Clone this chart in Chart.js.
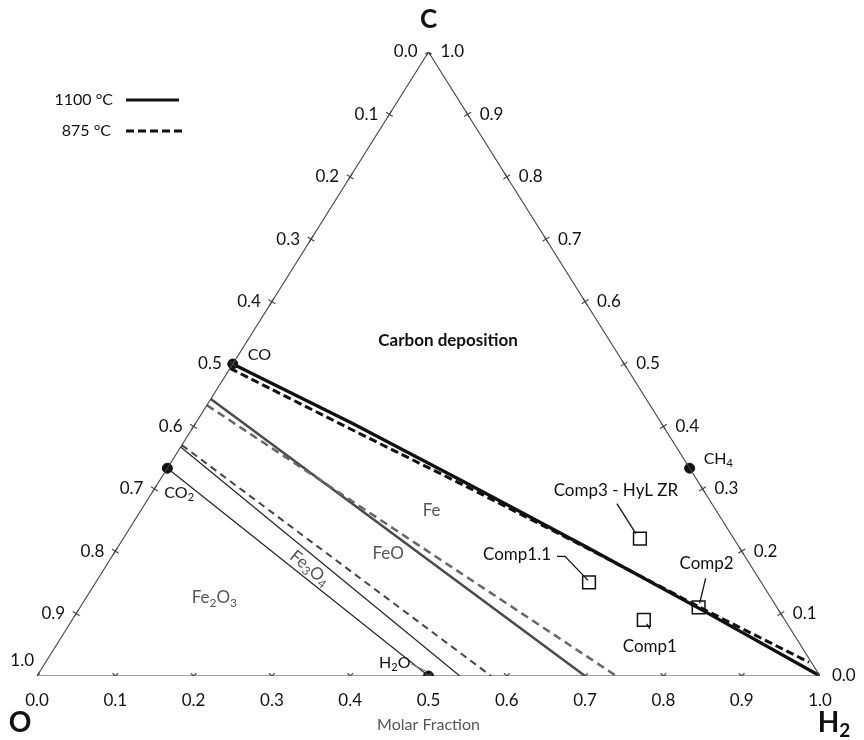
<!DOCTYPE html>
<html>
<head>
<meta charset="utf-8">
<title>C-H-O ternary diagram</title>
<script src="https://cdn.jsdelivr.net/npm/chart.js@4.4.1/dist/chart.umd.min.js"></script>
<style>
  body { margin: 0; background: #fff; }
  #wrap { width: 864px; height: 740px; position: relative; }
</style>
</head>
<body>
<div id="wrap"><canvas id="ternary"></canvas></div>
<script>
// molar fractions: h = H2, c = C  (O = 1 - h - c)
const tickValues = [0, 0.1, 0.2, 0.3, 0.4, 0.5, 0.6, 0.7, 0.8, 0.9, 1.0];

// carbon deposition limit
const carbon1100H = [0, 0.2, 0.4, 0.6, 0.8, 1.0];
const carbon1100C = [0.5, 0.405, 0.306, 0.206, 0.104, 0];
const carbon875H = [0, 0.2, 0.4, 0.6, 0.8, 0.9, 0.975];
const carbon875C = [0.493, 0.397, 0.302, 0.205, 0.106, 0.058, 0.022];

// Fe / FeO
const feFeo1100H = [0, 0.70];
const feFeo1100C = [0.444, 0];
const feFeo875H = [0, 0.74];
const feFeo875C = [0.434, 0];

// FeO / Fe3O4
const feoMag1100H = [0, 0.54];
const feoMag1100C = [0.367, 0];
const feoMag875H = [0, 0.58];
const feoMag875C = [0.37, 0];

// Fe3O4 / Fe2O3 (CO2 - H2O)
const magHemH = [0, 0.5];
const magHemC = [0.333, 0];

// pure species
const speciesNames = ['CO', 'CO_2', 'H_2O', 'CH_4'];
const speciesH = [0, 0, 0.5, 0.667];
const speciesC = [0.5, 0.333, 0, 0.333];

// gas compositions
const compNames = ['Comp1', 'Comp1.1', 'Comp2', 'Comp3 - HyL ZR'];
const compH = [0.73, 0.63, 0.79, 0.66];
const compC = [0.09, 0.15, 0.11, 0.22];

const FONT = 'Lato, "Open Sans", sans-serif';

function pts(hs, cs) {
  return hs.map((h, i) => ({ x: h + cs[i] / 2, y: cs[i] }));
}

// text with "_2" style subscripts
function chem(ctx, text, x, y, size, align, color, bold) {
  const parts = [];
  for (let i = 0; i < text.length; i++) {
    if (text[i] === '_') { parts.push([text[i + 1], true]); i++; }
    else if (parts.length && !parts[parts.length - 1][1]) parts[parts.length - 1][0] += text[i];
    else parts.push([text[i], false]);
  }
  const w = bold ? 'bold ' : '';
  const subSize = Math.round(size * 0.68);
  let total = 0;
  parts.forEach(p => {
    ctx.font = w + (p[1] ? subSize : size) + 'px ' + FONT;
    p.push(ctx.measureText(p[0]).width);
    total += p[2];
  });
  let cx = align === 'center' ? x - total / 2 : align === 'right' ? x - total : x;
  ctx.fillStyle = color;
  ctx.textAlign = 'left';
  ctx.textBaseline = 'middle';
  parts.forEach(p => {
    ctx.font = w + (p[1] ? subSize : size) + 'px ' + FONT;
    ctx.fillText(p[0], cx, p[1] ? y + size * 0.28 : y);
    cx += p[2];
  });
}

function line(ctx, x1, y1, x2, y2, color, width, dash) {
  ctx.save();
  ctx.strokeStyle = color;
  ctx.lineWidth = width;
  ctx.setLineDash(dash || []);
  ctx.beginPath();
  ctx.moveTo(x1, y1);
  ctx.lineTo(x2, y2);
  ctx.stroke();
  ctx.restore();
}

const textPlugin = {
  id: 'ternaryText',
  afterDatasetsDraw(chart) {
    const { ctx, scales: { x, y } } = chart;
    const at = (h, c) => [x.getPixelForValue(h + c / 2), y.getPixelForValue(c)];
    ctx.save();

    // axis tick labels
    ctx.font = '17px ' + FONT;
    ctx.fillStyle = '#111';
    ctx.textBaseline = 'middle';
    tickValues.forEach(v => {
      // O fraction along the O-C side
      let [px, py] = at(0, 1 - v);
      ctx.textAlign = 'right';
      if (v === 1) ctx.fillText(v.toFixed(1), px - 3, py - 15);
      else ctx.fillText(v.toFixed(1), px - 11, py);
      // C fraction along the C-H2 side
      [px, py] = at(1 - v, v);
      ctx.textAlign = 'left';
      ctx.fillText(v.toFixed(1), px + 12, py);
      // H2 fraction along the base
      [px, py] = at(v, 0);
      ctx.textAlign = 'center';
      ctx.fillText(v.toFixed(1), px, py + 25);
    });

    // corner names
    let [px, py] = at(0, 1);
    chem(ctx, 'C', px, py - 32, 26, 'center', '#111', true);
    [px, py] = at(0, 0);
    chem(ctx, 'O', px - 17, py + 47, 28, 'center', '#111', true);
    [px, py] = at(1, 0);
    chem(ctx, 'H_2', px + 14, py + 47, 28, 'center', '#111', true);
    [px, py] = at(0.5, 0);
    chem(ctx, 'Molar Fraction', px, py + 49, 16, 'center', '#555', false);

    // phase fields
    [px, py] = at(0.256, 0.538);
    chem(ctx, 'Carbon deposition', px, py, 17, 'center', '#111', true);
    [px, py] = at(0.371, 0.266);
    chem(ctx, 'Fe', px, py, 17, 'center', '#555', false);
    [px, py] = at(0.35, 0.197);
    chem(ctx, 'FeO', px, py, 17, 'center', '#555', false);
    [px, py] = at(0.164, 0.125);
    chem(ctx, 'Fe_2O_3', px, py, 17, 'center', '#555', false);
    const [ax, ay] = at(feoMag1100H[0], feoMag1100C[0]);
    const [bx, by] = at(feoMag1100H[1], feoMag1100C[1]);
    [px, py] = at(0.262, 0.173);
    ctx.save();
    ctx.translate(px, py);
    ctx.rotate(Math.atan2(by - ay, bx - ax));
    chem(ctx, 'Fe_3O_4', 0, 0, 17, 'center', '#555', false);
    ctx.restore();

    // species labels
    const spOff = [[15, -9, 'left'], [-3, 25, 'left'], [-18, -13, 'right'], [14, -9, 'left']];
    speciesNames.forEach((n, i) => {
      const [sx, sy] = at(speciesH[i], speciesC[i]);
      const o = spOff[i];
      chem(ctx, n, sx + o[0], sy + o[1], 16, o[2], '#111', false);
      if (i === 2) line(ctx, sx - 17, sy - 12, sx - 3, sy - 5, '#777', 1.2);
    });

    // composition labels with leaders
    const leaders = [
      { lab: [6, 27], path: [[3, 4], [6, 9]] },
      { lab: [-72, -28], path: [[-32, -26], [-24, -26], [-1, -2]] },
      { lab: [8, -44], path: [[7, -29], [1, -4]] },
      { lab: [-24, -48], path: [[-23, -35], [-4, -5]] }
    ];
    compNames.forEach((n, i) => {
      const [cx, cy] = at(compH[i], compC[i]);
      const l = leaders[i];
      chem(ctx, n, cx + l.lab[0], cy + l.lab[1], 17, 'center', '#111', false);
      ctx.strokeStyle = '#111';
      ctx.lineWidth = 1.3;
      ctx.setLineDash([]);
      ctx.beginPath();
      l.path.forEach((p, k) => k ? ctx.lineTo(cx + p[0], cy + p[1]) : ctx.moveTo(cx + p[0], cy + p[1]));
      ctx.stroke();
    });

    // temperature key
    chem(ctx, '1100 °C', 113, 100, 16, 'right', '#111', false);
    line(ctx, 126, 100, 179, 100, '#111', 3);
    chem(ctx, '875 °C', 111, 131, 16, 'right', '#111', false);
    line(ctx, 126, 131, 184, 131, '#111', 3, [8, 4]);

    ctx.restore();
  }
};

const edgeH = [0, 1, 0, 0];
const edgeC = [0, 0, 1, 0];
const leftTicks = pts(tickValues.map(() => 0), tickValues);
const rightTicks = pts(tickValues.map(v => 1 - v), tickValues);
const baseTicks = pts(tickValues, tickValues.map(() => 0));

const lineSet = (data, color, width, dash) => ({
  data, showLine: true, borderColor: color, borderWidth: width,
  borderDash: dash || [], pointRadius: 0, fill: false
});

new Chart(document.getElementById('ternary'), {
  type: 'scatter',
  data: {
    datasets: [
      lineSet(pts(edgeH, edgeC), '#444', 1.1),
      { data: leftTicks, pointStyle: 'cross', rotation: 32, pointRadius: 4, borderColor: '#444', borderWidth: 1.1 },
      { data: rightTicks, pointStyle: 'cross', rotation: -32, pointRadius: 4, borderColor: '#444', borderWidth: 1.1 },
      { data: baseTicks, pointStyle: 'crossRot', pointRadius: 4, borderColor: '#555', borderWidth: 1.3 },
      lineSet(pts(magHemH, magHemC), '#222', 1.2),
      lineSet(pts(feoMag1100H, feoMag1100C), '#222', 1.2),
      lineSet(pts(feoMag875H, feoMag875C), '#444', 2, [7, 5]),
      lineSet(pts(feFeo875H, feFeo875C), '#666', 2.5, [8, 5]),
      lineSet(pts(feFeo1100H, feFeo1100C), '#4a4a4a', 2.5),
      lineSet(pts(carbon875H, carbon875C), '#111', 3, [8, 4]),
      lineSet(pts(carbon1100H, carbon1100C), '#111', 3.3),
      { data: pts(speciesH, speciesC), pointStyle: 'circle', pointRadius: 5,
        backgroundColor: '#111', borderColor: '#111', borderWidth: 1 },
      { data: pts(compH, compC), pointStyle: 'rect', pointRadius: 9,
        backgroundColor: 'rgba(255,255,255,0)', borderColor: '#111', borderWidth: 1.5 }
    ]
  },
  options: {
    responsive: true,
    maintainAspectRatio: false,
    animation: false,
    events: [],
    layout: { padding: { left: 37, right: 44, top: 52, bottom: 64 } },
    scales: {
      x: { type: 'linear', min: 0, max: 1, display: false },
      y: { type: 'linear', min: 0, max: 1, display: false }
    },
    plugins: { legend: { display: false }, tooltip: { enabled: false } }
  },
  plugins: [textPlugin]
});
</script>
</body>
</html>
